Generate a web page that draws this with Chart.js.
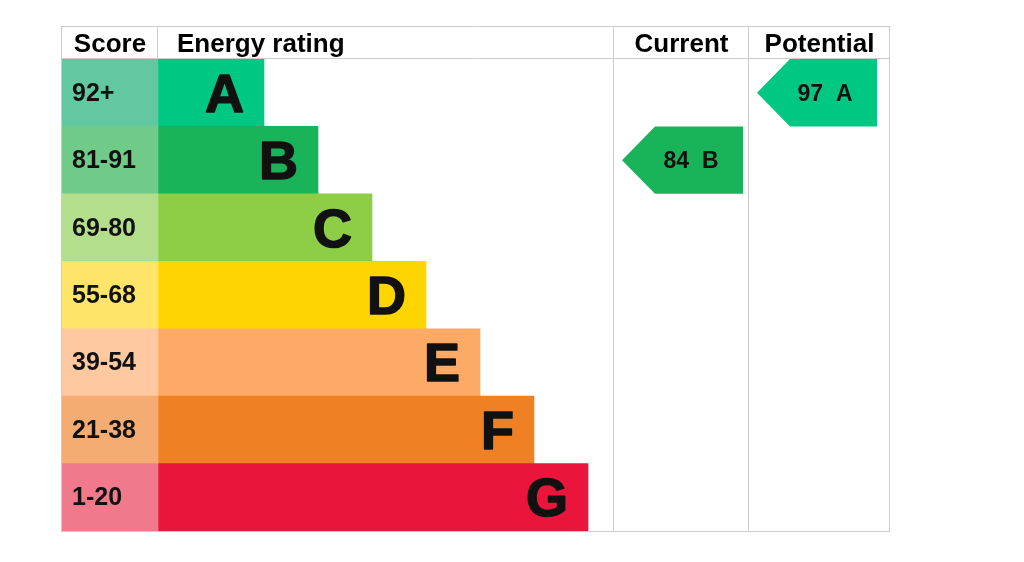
<!DOCTYPE html>
<html>
<head>
<meta charset="utf-8">
<title>Energy rating</title>
<script src="https://cdn.jsdelivr.net/npm/chart.js@4.4.1/dist/chart.umd.min.js"></script>
<style>
    html, body { margin: 0; padding: 0; background: #ffffff; }
    #wrap { width: 1024px; height: 562px; }
</style>
</head>
<body>
<div id="wrap"><canvas id="epc"></canvas></div>
<script>
/* ############ */
/* ### Data ### */
/* ############ */

const bands = ['A', 'B', 'C', 'D', 'E', 'F', 'G'];
const scoreLabels = ['92+', '81-91', '69-80', '55-68', '39-54', '21-38', '1-20'];

// Length of each rating bar (table units, whole table = 828)
const ratingLengths = [106, 160, 214, 268, 322, 376, 430];

// Column edges: Score | Energy rating | Current | Potential
const columnEdges = [0, 96, 552, 687, 828];
const columnTitles = ['Score', 'Energy rating', 'Current', 'Potential'];

const currentScore = 84;
const currentBand = 'B';
const currentRange = [560, 681];

const potentialScore = 97;
const potentialBand = 'A';
const potentialRange = [695, 815];

/* ############## */
/* ### Styles ### */
/* ############## */

const FONT = '"Liberation Sans", Arial, Helvetica, sans-serif';
const GRID_COLOR = '#cccccc';
const HEADER_HEIGHT = 33;

const bandColors = ['#00c781', '#19b459', '#8dce46', '#ffd500', '#fcaa65', '#ef8023', '#e9153b'];
const scoreColors = ['#62c8a1', '#71cb88', '#b3df8c', '#ffe46a', '#fec8a0', '#f4ac73', '#f07a8c'];

/* ############### */
/* ### Plugins ### */
/* ############### */

// Table frame, header texts and column lines
const tablePlugin = {
    id: 'table',
    beforeDatasetsDraw(chart) {
        const ctx = chart.ctx;
        const area = chart.chartArea;
        const x = chart.scales.x;
        const top = area.top - HEADER_HEIGHT;
        const px = v => Math.round(x.getPixelForValue(v)) - 0.5;

        ctx.save();
        ctx.strokeStyle = GRID_COLOR;
        ctx.lineWidth = 1;
        ctx.beginPath();

        // Horizontal lines
        ctx.moveTo(px(columnEdges[0]), top + 0.5);
        ctx.lineTo(px(columnEdges[4]), top + 0.5);
        ctx.moveTo(px(columnEdges[0]), area.top - 0.5);
        ctx.lineTo(px(columnEdges[4]), area.top - 0.5);
        ctx.moveTo(px(columnEdges[0]), area.bottom + 0.5);
        ctx.lineTo(px(columnEdges[4]), area.bottom + 0.5);

        // Vertical lines
        columnEdges.forEach((edge, i) => {
            ctx.moveTo(px(edge), top);
            ctx.lineTo(px(edge), i == 1 ? area.top : area.bottom + 1);
        });
        ctx.stroke();

        // Header texts
        ctx.fillStyle = '#000000';
        ctx.font = 'bold 26px ' + FONT;
        ctx.textBaseline = 'alphabetic';
        const baseline = area.top - 7;
        columnTitles.forEach((title, i) => {
            const left = x.getPixelForValue(columnEdges[i]);
            const right = x.getPixelForValue(columnEdges[i + 1]);
            if (i == 1) {
                ctx.textAlign = 'left';
                ctx.fillText(title, left + 19, baseline);
            } else {
                ctx.textAlign = 'center';
                ctx.fillText(title, (left + right) / 2, baseline);
            }
        });
        ctx.restore();
    }
};

// Arrows for current / potential, band letters and score labels
const labelPlugin = {
    id: 'labels',
    afterDatasetsDraw(chart) {
        const ctx = chart.ctx;
        ctx.save();

        chart.data.datasets.forEach((ds, d) => {
            const meta = chart.getDatasetMeta(d);
            meta.data.forEach((el, i) => {
                if (ds.data[i] == null) return;
                const p = el.getProps(['x', 'base', 'y', 'height'], true);

                if (ds.role == 'score') {
                    ctx.font = 'bold 25px ' + FONT;
                    ctx.textAlign = 'left';
                    ctx.textBaseline = 'alphabetic';
                    ctx.fillStyle = '#111111';
                    ctx.fillText(scoreLabels[i], p.base + 10, p.y + 8);
                }

                if (ds.role == 'rating') {
                    // Slight stroke to get the heavy look of the letters
                    ctx.font = 'bold 54px ' + FONT;
                    ctx.textAlign = 'right';
                    ctx.textBaseline = 'alphabetic';
                    ctx.fillStyle = '#111111';
                    ctx.strokeStyle = '#111111';
                    ctx.lineWidth = 1.5;
                    ctx.lineJoin = 'round';
                    ctx.fillText(bands[i], p.x - 20, p.y + 19);
                    ctx.strokeText(bands[i], p.x - 20, p.y + 19);
                }

                if (ds.role == 'arrow') {
                    const top = p.y - p.height / 2;
                    const bottom = p.y + p.height / 2;
                    const tip = 33;

                    ctx.fillStyle = bandColors[i];
                    ctx.beginPath();
                    ctx.moveTo(p.base, p.y);
                    ctx.lineTo(p.base + tip, top);
                    ctx.lineTo(p.x, top);
                    ctx.lineTo(p.x, bottom);
                    ctx.lineTo(p.base + tip, bottom);
                    ctx.closePath();
                    ctx.fill();

                    ctx.font = 'bold 23px ' + FONT;
                    ctx.textAlign = 'center';
                    ctx.textBaseline = 'alphabetic';
                    ctx.fillStyle = '#111111';
                    ctx.fillText(ds.score + '  ' + bands[i], p.x - 52, p.y + 8);
                }
            });
        });
        ctx.restore();
    }
};

/* ############# */
/* ### Chart ### */
/* ############# */

function arrowData(band, range) {
    return bands.map(b => b == band ? range : null);
}

const epcChart = new Chart(document.getElementById('epc').getContext('2d'), {
    type: 'bar',
    data: {
        labels: bands,
        datasets: [{
                role: 'score',
                data: bands.map(() => [columnEdges[0], columnEdges[1]]),
                backgroundColor: scoreColors
            },
            {
                role: 'rating',
                data: ratingLengths.map(len => [columnEdges[1], columnEdges[1] + len]),
                backgroundColor: bandColors
            },
            {
                role: 'arrow',
                score: currentScore,
                data: arrowData(currentBand, currentRange),
                backgroundColor: 'rgba(0,0,0,0)'
            },
            {
                role: 'arrow',
                score: potentialScore,
                data: arrowData(potentialBand, potentialRange),
                backgroundColor: 'rgba(0,0,0,0)'
            }
        ]
    },
    options: {
        indexAxis: 'y',
        responsive: true,
        maintainAspectRatio: false,
        animation: false,
        layout: {
            padding: { left: 62, right: 134, top: 59, bottom: 31 }
        },
        datasets: {
            bar: {
                grouped: false,
                barPercentage: 1,
                categoryPercentage: 1,
                borderWidth: 0
            }
        },
        scales: {
            x: { type: 'linear', min: 0, max: 828, display: false },
            y: { type: 'category', display: false }
        },
        plugins: {
            legend: { display: false },
            tooltip: { enabled: false }
        }
    },
    plugins: [tablePlugin, labelPlugin]
});
</script>
</body>
</html>
